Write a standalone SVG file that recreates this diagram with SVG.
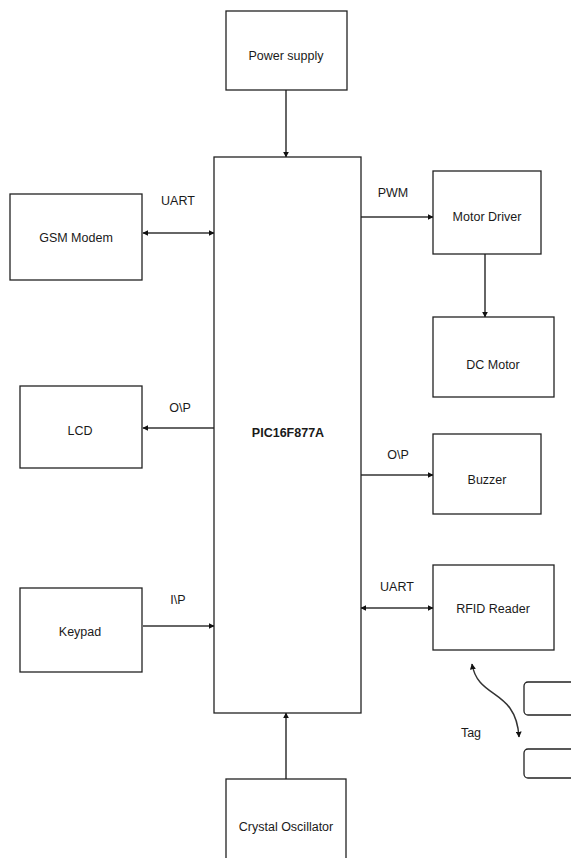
<svg xmlns="http://www.w3.org/2000/svg" width="571" height="858" viewBox="0 0 571 858">
<style>
.box{fill:#fff;stroke:#222;stroke-width:1.3}
.t{font-family:"Liberation Sans",Arial,sans-serif;font-size:12.5px;fill:#1a1a1a;text-anchor:middle}
.b{font-weight:bold}
.c{stroke:#333;stroke-width:1.5;fill:none}
</style>
<defs>
<marker id="ah" viewBox="0 0 10 10" refX="9" refY="5" markerWidth="6" markerHeight="6" orient="auto-start-reverse" markerUnits="userSpaceOnUse">
<path d="M0,0 L10,5 L0,10 z" fill="#111"/>
</marker>
</defs>
<rect width="571" height="858" fill="#fff"/>
<g id="connectors">
<line class="c" x1="286" y1="90" x2="286" y2="157" marker-end="url(#ah)"/>
<line class="c" x1="143" y1="233" x2="214" y2="233" marker-start="url(#ah)" marker-end="url(#ah)"/>
<line class="c" x1="361" y1="217" x2="433" y2="217" marker-end="url(#ah)"/>
<line class="c" x1="485" y1="254" x2="485" y2="317" marker-end="url(#ah)"/>
<line class="c" x1="214" y1="428" x2="143" y2="428" marker-end="url(#ah)"/>
<line class="c" x1="361" y1="475" x2="433" y2="475" marker-end="url(#ah)"/>
<line class="c" x1="361" y1="608" x2="433" y2="608" marker-start="url(#ah)" marker-end="url(#ah)"/>
<line class="c" x1="143" y1="626" x2="214" y2="626" marker-end="url(#ah)"/>
<line class="c" x1="286" y1="779" x2="286" y2="713" marker-end="url(#ah)"/>
<path class="c" d="M472,664 C478,700 516,688 519,737" marker-start="url(#ah)" marker-end="url(#ah)"/>
<text class="t" x="178" y="205">UART</text>
<text class="t" x="393" y="197">PWM</text>
<text class="t" x="180" y="412">O\P</text>
<text class="t" x="398" y="459">O\P</text>
<text class="t" x="397" y="591">UART</text>
<text class="t" x="178" y="604">I\P</text>
<text class="t" x="471" y="737">Tag</text>
</g>
<g id="power"><rect class="box" x="226" y="11" width="121" height="79"/><text class="t" x="286" y="60">Power supply</text></g>
<g id="pic"><rect class="box" x="214" y="157" width="147" height="556"/><text class="t b" x="288" y="437">PIC16F877A</text></g>
<g id="gsm"><rect class="box" x="10" y="194" width="132" height="86"/><text class="t" x="76" y="242">GSM Modem</text></g>
<g id="motordriver"><rect class="box" x="433" y="171" width="108" height="83"/><text class="t" x="487" y="221">Motor Driver</text></g>
<g id="dcmotor"><rect class="box" x="433" y="317" width="121" height="80"/><text class="t" x="493" y="369">DC Motor</text></g>
<g id="lcd"><rect class="box" x="20" y="386" width="122" height="82"/><text class="t" x="80" y="435">LCD</text></g>
<g id="buzzer"><rect class="box" x="433" y="434" width="108" height="80"/><text class="t" x="487" y="484">Buzzer</text></g>
<g id="rfid"><rect class="box" x="433" y="565" width="121" height="85"/><text class="t" x="493" y="613">RFID Reader</text></g>
<g id="keypad"><rect class="box" x="20" y="588" width="122" height="84"/><text class="t" x="80" y="636">Keypad</text></g>
<g id="crystal"><rect class="box" x="226" y="779" width="120" height="90"/><text class="t" x="286" y="831">Crystal Oscillator</text></g>
<g id="tag1"><rect class="box" x="524" y="682" width="60" height="33" rx="4"/></g>
<g id="tag2"><rect class="box" x="524" y="749" width="60" height="29" rx="4"/></g>
</svg>
